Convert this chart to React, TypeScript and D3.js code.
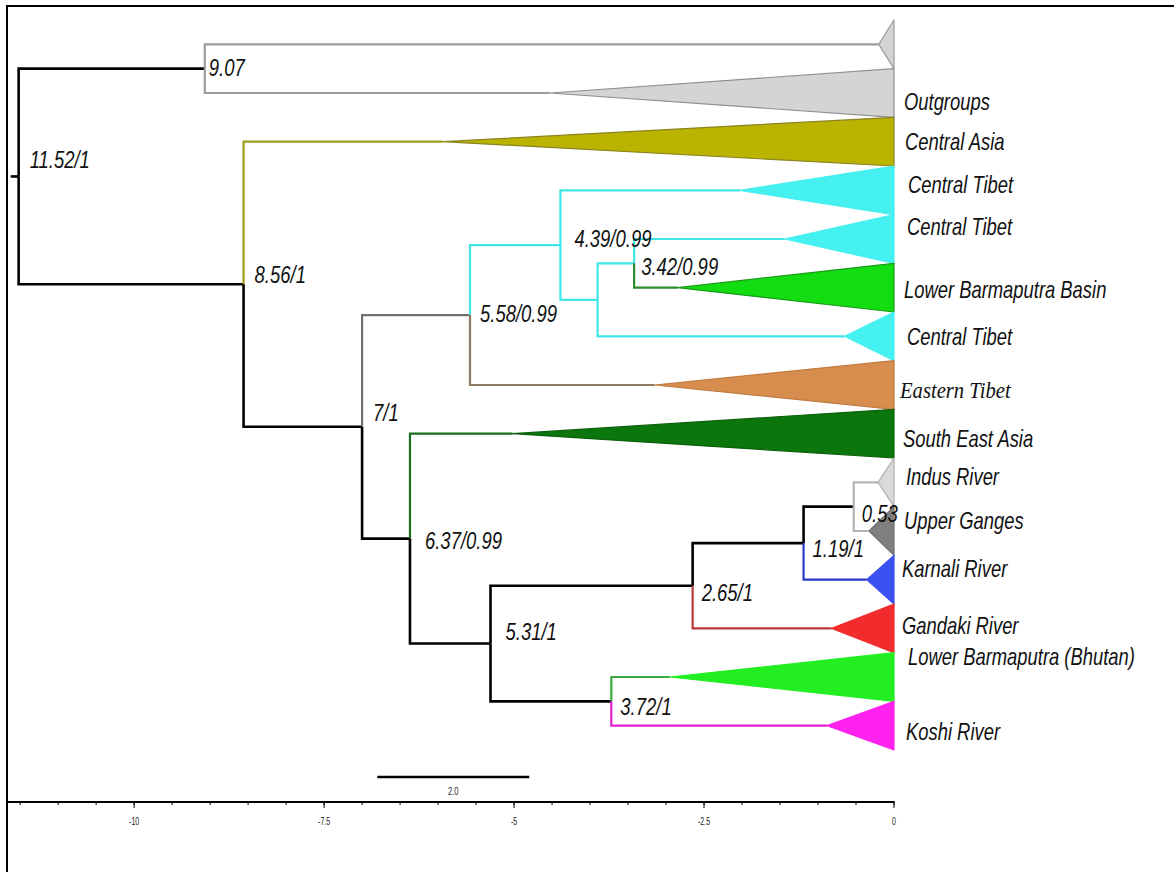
import React, { useRef, useEffect } from "react";
import * as d3 from "d3";

// collapsed clades, top to bottom
const tipNames = [
  "", "Outgroups", "Central Asia", "Central Tibet", "Central Tibet",
  "Lower Barmaputra Basin", "Central Tibet", "Eastern Tibet", "South East Asia",
  "Indus River", "Upper Ganges", "Karnali River", "Gandaki River",
  "Lower Barmaputra (Bhutan)", "Koshi River",
];
// how deep each collapsed triangle reaches (time before present)
const tipDepths = [0.2, 4.53, 5.94, 2.03, 1.44, 2.85, 0.65, 3.15, 5.02, 0.21, 0.33, 0.36, 0.82, 2.95, 0.88];

// internal nodes
const nodeIds = ["root", "n907", "n856", "n7", "n558", "n439", "n390", "n342", "n637", "n531", "n265", "n119", "n053", "n372"];
const nodeAges = [11.52, 9.07, 8.56, 7, 5.58, 4.39, 3.9, 3.42, 6.37, 5.31, 2.65, 1.19, 0.53, 3.72];
const nodeLabels = ["11.52/1", "9.07", "8.56/1", "7/1", "5.58/0.99", "4.39/0.99", "", "3.42/0.99", "6.37/0.99", "5.31/1", "2.65/1", "1.19/1", "0.53", "3.72/1"];
const nodeChildren = [
  ["n907", "n856"], ["t0", "t1"], ["t2", "n7"], ["n558", "n637"], ["n439", "t7"],
  ["t3", "n390"], ["n342", "t6"], ["t4", "t5"], ["t8", "n531"], ["n265", "n372"],
  ["n119", "t12"], ["n053", "t11"], ["t9", "t10"], ["t13", "t14"],
];

const axisTicks = [-10, -7.5, -5, -2.5, 0];
const scaleBarLength = 2.0;

// styling
const tipFill = ["#d4d4d4", "#d4d4d4", "#bab300", "#44f0f0", "#44f0f0", "#11dd11", "#44f0f0", "#d68d4e", "#0b760b", "#dadada", "#7f7f7f", "#3b50f0", "#f22c2c", "#22ee22", "#ff22ee"];
const tipStroke = ["#9a9a9a", "#8f8f8f", "#8a8420", "#44f0f0", "#44f0f0", "#1a9a1a", "#44f0f0", "#c07a40", "#0b5f0b", "#b0b0b0", "#707070", "#3b50f0", "#f22c2c", "#22ee22", "#ff22ee"];
const branchColor: Record<string, string> = {
  t0: "#9c9c9c", t1: "#9c9c9c", t2: "#a09a18",
  n558: "#707070", n439: "#40e6e6", t7: "#8e7a62",
  t3: "#40e6e6", n390: "#40e6e6", n342: "#40e6e6", t6: "#40e6e6", t4: "#40e6e6", t5: "#2f8c2f",
  t8: "#1c6c1c", t12: "#b83838", t11: "#2a3ac8", t9: "#b4b4b4", t10: "#b4b4b4",
  t13: "#3caa3c", t14: "#e020d0",
};
const tipLabelShift = [0, 9, 0, -5, -12, 2, 1, 5, 5, -5, -10, -11, -2, -20, 6];
const tipLabelDx = [0, 10, 11, 14, 13, 10, 13, 6, 9, 12, 10, 8, 8, 14, 12];
const nodeLabelDx = [11, 4, 11, 11, 10, 14, 0, 7, 15, 15, 9, 9, 8, 9];
const nodeLabelDy = [-8, 7, -1, -6, 7, 2, 0, 12, 10, -4, 15, 14, 15, 14];

const W = 1174;
const H = 872;

const App = () => {
  const svgRef = useRef<SVGSVGElement>(null);

  useEffect(() => {
    const svg = d3.select(svgRef.current);
    svg.selectAll("*").remove();

    const x = d3.scaleLinear().domain([-11.66, 0]).range([8, 894]);
    const y = d3.scaleBand<number>()
      .domain(tipNames.map((_, i) => i))
      .range([20, 750])
      .padding(0);

    const tipIndex = (id: string) => +id.slice(1);
    const nodeIndex = (id: string) => nodeIds.indexOf(id);

    const posY = (id: string): number => {
      if (id.startsWith("t")) return y(tipIndex(id))! + y.bandwidth() / 2;
      const kids = nodeChildren[nodeIndex(id)];
      return d3.mean(kids, posY)!;
    };
    const posX = (id: string): number =>
      id.startsWith("t") ? x(-tipDepths[tipIndex(id)]) : x(-nodeAges[nodeIndex(id)]);

    // frame
    svg.append("path")
      .attr("d", `M7,${H} V6 H${W}`)
      .attr("fill", "none")
      .attr("stroke", "#000")
      .attr("stroke-width", 2);

    // triangles for collapsed clades
    svg.append("g")
      .selectAll("path")
      .data(tipNames.map((_, i) => i))
      .join("path")
      .attr("d", i => {
        const top = y(i)!;
        const bot = top + y.bandwidth();
        return `M${x(-tipDepths[i])},${top + y.bandwidth() / 2} L${x(0)},${top} L${x(0)},${bot} Z`;
      })
      .attr("fill", i => tipFill[i])
      .attr("stroke", i => tipStroke[i])
      .attr("stroke-width", 1.2)
      .attr("stroke-linejoin", "round");

    // branches
    const branches: { from: string; to: string }[] = [];
    nodeIds.forEach((id, i) => nodeChildren[i].forEach(c => branches.push({ from: id, to: c })));

    svg.append("g")
      .attr("fill", "none")
      .selectAll("path")
      .data(branches)
      .join("path")
      .attr("d", b => `M${posX(b.from)},${posY(b.from)} V${posY(b.to)} H${posX(b.to)}`)
      .attr("stroke", b => branchColor[b.to] || "#000")
      .attr("stroke-width", b => (branchColor[b.to] ? 2.2 : 2.6));

    // root stub
    svg.append("path")
      .attr("d", `M${x(-nodeAges[0]) - 8},${posY("root")} H${x(-nodeAges[0])}`)
      .attr("stroke", "#000")
      .attr("stroke-width", 2.6);

    // node labels
    svg.append("g")
      .selectAll("text")
      .data(nodeIds.map((_, i) => i).filter(i => nodeLabels[i]))
      .join("text")
      .attr("transform", i =>
        `translate(${posX(nodeIds[i]) + nodeLabelDx[i]},${posY(nodeIds[i]) + nodeLabelDy[i]}) scale(0.77,1)`)
      .attr("font-family", "'Liberation Sans', Arial, sans-serif")
      .attr("font-style", "italic")
      .attr("font-size", 24)
      .attr("fill", "#111")
      .text(i => nodeLabels[i]);

    // tip labels
    svg.append("g")
      .selectAll("text")
      .data(tipNames.map((_, i) => i).filter(i => tipNames[i]))
      .join("text")
      .attr("transform", i =>
        `translate(${x(0) + tipLabelDx[i]},${y(i)! + y.bandwidth() / 2 + 8 + tipLabelShift[i]}) scale(${i === 7 ? 0.86 : 0.8},1)`)
      .attr("font-family", i => (i === 7 ? "'Liberation Serif', 'Times New Roman', serif" : "'Liberation Sans', Arial, sans-serif"))
      .attr("font-style", "italic")
      .attr("font-size", i => (i === 7 ? 24 : 23))
      .attr("fill", "#111")
      .text(i => tipNames[i]);

    // scale bar
    const barStart = -6.8;
    svg.append("line")
      .attr("x1", x(barStart))
      .attr("x2", x(barStart + scaleBarLength))
      .attr("y1", 777)
      .attr("y2", 777)
      .attr("stroke", "#000")
      .attr("stroke-width", 2.5);
    svg.append("text")
      .attr("transform", `translate(${x(barStart + scaleBarLength / 2)},795) scale(0.75,1)`)
      .attr("text-anchor", "middle")
      .attr("font-family", "'Liberation Sans', Arial, sans-serif")
      .attr("font-size", 10)
      .attr("fill", "#222")
      .text(scaleBarLength.toFixed(1));

    // time axis
    const axisG = svg.append("g").attr("transform", "translate(0,802)");
    axisG.append("line")
      .attr("x1", 8).attr("x2", x(0))
      .attr("stroke", "#000").attr("stroke-width", 2);
    axisG.selectAll(".minor")
      .data(d3.range(-23, 1).map(d => d / 2))
      .join("line")
      .attr("class", "minor")
      .attr("x1", d => x(d)).attr("x2", d => x(d))
      .attr("y1", -1).attr("y2", 3)
      .attr("stroke", "#000").attr("stroke-width", 1);
    const major = axisG.selectAll(".major")
      .data(axisTicks)
      .join("g")
      .attr("class", "major")
      .attr("transform", d => `translate(${x(d)},0)`);
    major.append("line").attr("y1", -1).attr("y2", 6).attr("stroke", "#000").attr("stroke-width", 1);
    major.append("text")
      .attr("y", 23)
      .attr("transform", "scale(0.7,1)")
      .attr("text-anchor", "middle")
      .attr("font-family", "'Liberation Sans', Arial, sans-serif")
      .attr("font-size", 10)
      .attr("fill", "#222")
      .text(d => String(d));
  }, []);

  return (
    <svg
      ref={svgRef}
      width={W}
      height={H}
      style={{ position: "absolute", left: 0, top: 0, background: "#fff" }}
    />
  );
};

export default App;
